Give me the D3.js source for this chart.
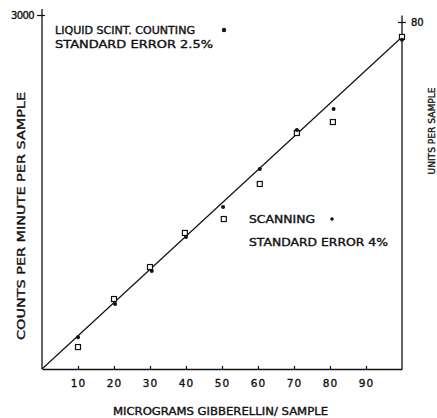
<!DOCTYPE html>
<html>
<head>
<meta charset="utf-8">
<script src="https://cdnjs.cloudflare.com/ajax/libs/d3/7.8.5/d3.min.js"></script>
<style>
  html, body { margin: 0; padding: 0; background: #fff; }
  svg text { font-family: "DejaVu Sans", sans-serif; fill: #111; stroke: #111; stroke-width: 0.35; }
</style>
</head>
<body>
<div id="chart"></div>
<script>
// 数据：微克赤霉素 / 每样品计数
var xTicks = [10, 20, 30, 40, 50, 60, 70, 80, 90];
var dotX = [10, 20.3, 30.5, 40, 50.3, 60.5, 70.8, 81, 100];
var dotY = [270, 551, 831, 1119, 1373, 1694, 2025, 2203, 2790];
var squareX = [10, 20, 30, 39.7, 50.5, 60.5, 70.8, 80.8, 100];
var squareY = [186, 593, 864, 1153, 1271, 1568, 2000, 2093, 2814];
var lineX = [0, 100];
var lineY = [0, 2814];

var width = 437, height = 418;

var svg = d3.select("#chart").append("svg")
    .attr("width", width)
    .attr("height", height);

/*比例尺*/
var x = d3.scaleLinear().domain([0, 100]).range([42, 402]);
var y = d3.scaleLinear().domain([0, 3000]).range([369, 15]);
var yRight = d3.scaleLinear().domain([0, 80]).range([369, 22]);

var ink = "#111";

/*x轴*/
var xAxis = d3.axisBottom(x)
    .tickValues(xTicks)
    .tickSize(3)
    .tickSizeOuter(0)
    .tickPadding(8)
    .tickFormat(d3.format("d"));
var gx = svg.append("g")
    .attr("transform", "translate(0," + y(0) + ")")
    .call(xAxis);
gx.select(".domain").attr("stroke", ink).attr("stroke-width", 1.6);
gx.selectAll(".tick line").attr("stroke", ink).attr("y1", -3).attr("y2", 1).attr("stroke-width", 1.2);
gx.selectAll(".tick text")
    .attr("font-size", 10.5)
    .attr("letter-spacing", 1)
    .attr("fill", ink)
    .style("font-family", "DejaVu Sans, sans-serif");

/*左轴*/
var yAxis = d3.axisLeft(y)
    .tickValues([3000])
    .tickSize(5)
    .tickSizeOuter(0)
    .tickPadding(3)
    .tickFormat(d3.format("d"));
var gy = svg.append("g")
    .attr("transform", "translate(" + x(0) + ",0)")
    .call(yAxis);
gy.select(".domain").remove();
gy.selectAll(".tick line").attr("stroke", ink).attr("x1", -5).attr("x2", 3).attr("stroke-width", 1.2);
gy.selectAll(".tick text")
    .attr("font-size", 10)
    .attr("letter-spacing", -0.6)
    .attr("fill", ink)
    .style("font-family", "DejaVu Sans, sans-serif");
svg.append("line")
    .attr("x1", x(0)).attr("x2", x(0))
    .attr("y1", y(3050)).attr("y2", y(0))
    .attr("stroke", ink).attr("stroke-width", 1.3);

/*右轴*/
var yAxisR = d3.axisRight(yRight)
    .tickValues([80])
    .tickSize(4)
    .tickSizeOuter(0)
    .tickPadding(5);
var gr = svg.append("g")
    .attr("transform", "translate(" + x(100) + ",0)")
    .call(yAxisR);
gr.select(".domain").remove();
gr.selectAll(".tick line").attr("stroke", ink).attr("x1", -4).attr("x2", 4).attr("stroke-width", 1.2);
gr.selectAll(".tick text")
    .attr("font-size", 10)
    .attr("fill", ink)
    .style("font-family", "DejaVu Sans, sans-serif");
svg.append("line")
    .attr("x1", x(100)).attr("x2", x(100))
    .attr("y1", yRight(81.5)).attr("y2", y(0))
    .attr("stroke", ink).attr("stroke-width", 1.3);

/*拟合直线*/
var line = d3.line()
    .x(function (d, i) { return x(lineX[i]); })
    .y(function (d, i) { return y(lineY[i]); });
svg.append("path")
    .datum(lineX)
    .attr("d", line)
    .attr("fill", "none")
    .attr("stroke", ink)
    .attr("stroke-width", 1.2);

/*方块点*/
svg.selectAll(".sq")
    .data(squareX)
    .enter().append("rect")
    .attr("class", "sq")
    .attr("x", function (d) { return x(d) - 2.5; })
    .attr("y", function (d, i) { return y(squareY[i]) - 2.5; })
    .attr("width", 5)
    .attr("height", 5)
    .attr("fill", "#fff")
    .attr("stroke", ink)
    .attr("stroke-width", 1.2);

/*圆点*/
svg.selectAll(".dot")
    .data(dotX)
    .enter().append("circle")
    .attr("class", "dot")
    .attr("cx", function (d) { return x(d); })
    .attr("cy", function (d, i) { return y(dotY[i]); })
    .attr("r", 2)
    .attr("fill", ink);

/*图例文字*/
function label(txt, px, py, len, size) {
    return svg.append("text")
        .attr("x", px).attr("y", py)
        .attr("font-size", size || 10)
        .attr("textLength", len)
        .attr("lengthAdjust", "spacingAndGlyphs")
        .text(txt);
}
label("LIQUID SCINT. COUNTING", 55, 34, 140);
label("STANDARD ERROR  2.5%", 55, 48, 158);
svg.append("circle").attr("cx", 224).attr("cy", 30).attr("r", 2.2).attr("fill", ink);
label("SCANNING", 249, 223, 66);
label("STANDARD ERROR   4%", 249, 246, 139);
svg.append("circle").attr("cx", 332).attr("cy", 219).attr("r", 1.8).attr("fill", ink);

/*轴标题*/
label("MICROGRAMS  GIBBERELLIN/ SAMPLE", 113, 415, 215);
svg.append("text")
    .attr("transform", "translate(25,216) rotate(-90)")
    .attr("text-anchor", "middle")
    .attr("font-size", 10)
    .attr("textLength", 248)
    .attr("lengthAdjust", "spacingAndGlyphs")
    .text("COUNTS  PER  MINUTE  PER  SAMPLE");
svg.append("text")
    .attr("transform", "translate(435,131) rotate(-90)")
    .attr("text-anchor", "middle")
    .attr("font-size", 9.5)
    .attr("textLength", 87)
    .attr("lengthAdjust", "spacingAndGlyphs")
    .text("UNITS  PER  SAMPLE");
</script>
</body>
</html>
